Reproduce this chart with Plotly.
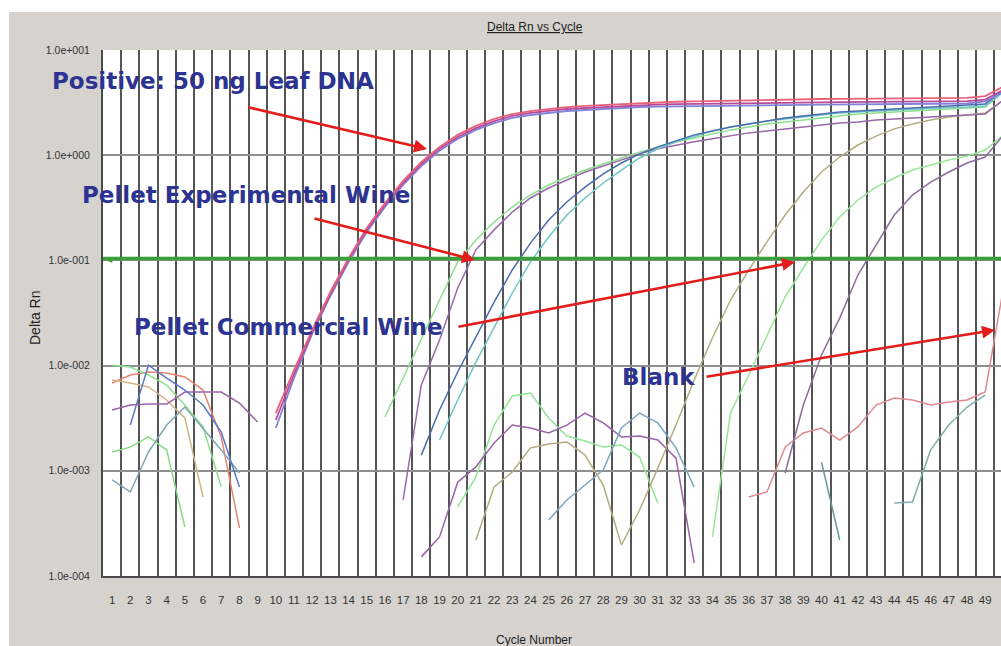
import math
import plotly.graph_objects as go

W, H = 1001, 646
ML, MR, MT, MB = 103, 0, 50, 70
PW, PH = W - ML - MR, H - MT - MB
CYCLE_PX = 18.19

cycles = list(range(1, 51))
x_ticktext = [str(c) for c in cycles]
y_tickvals = [1e-4, 1e-3, 1e-2, 1e-1, 1, 10]
y_ticktext = ["1.0e-004", "1.0e-003", "1.0e-002", "1.0e-001", "1.0e+000", "1.0e+001"]
threshold = 0.104

# Positive: 50 ng leaf DNA (first cycle 10)
pos_start = 10
pos_red = [0.00354, 0.00908, 0.0218, 0.0501, 0.105, 0.203, 0.351, 0.569, 0.862, 1.20,
           1.56, 1.90, 2.21, 2.46, 2.63, 2.75, 2.87, 2.94, 3.00, 3.07,
           3.14, 3.20, 3.22, 3.25, 3.28, 3.32, 3.35, 3.37, 3.39, 3.40,
           3.42, 3.43, 3.44, 3.45, 3.46, 3.47, 3.48, 3.49, 3.50, 3.65, 4.5]
pos_magenta = [0.00304, 0.00832, 0.0209, 0.0479, 0.101, 0.195, 0.336, 0.544, 0.825, 1.15,
               1.49, 1.81, 2.11, 2.36, 2.52, 2.63, 2.75, 2.81, 2.87, 2.94,
               3.00, 3.03, 3.06, 3.08, 3.10, 3.12, 3.14, 3.15, 3.16, 3.17,
               3.18, 3.19, 3.20, 3.21, 3.22, 3.23, 3.24, 3.25, 3.26, 3.38, 4.2]
pos_violet = [0.00255, 0.00762, 0.0200, 0.0459, 0.0966, 0.186, 0.322, 0.521, 0.789, 1.10,
              1.43, 1.74, 2.02, 2.26, 2.41, 2.52, 2.63, 2.69, 2.75, 2.81,
              2.87, 2.89, 2.91, 2.93, 2.95, 2.97, 2.98, 2.99, 3.00, 3.01,
              3.02, 3.03, 3.04, 3.05, 3.06, 3.07, 3.08, 3.09, 3.10, 3.25, 4.0]

# Pellet experimental wine
exp_green_start = 16
exp_green = [0.00325, 0.00762, 0.0183, 0.0420,
             0.0966, 0.156, 0.232, 0.322, 0.418, 0.521, 0.621, 0.723, 0.825, 0.941,
             1.07, 1.20, 1.34, 1.46, 1.59, 1.74, 1.85, 1.98, 2.07, 2.16,
             2.26, 2.36, 2.46, 2.52, 2.57, 2.63, 2.69, 2.75, 2.81, 2.87, 4.0]
exp_purple_start = 17
exp_purple = [0.000528, 0.00654, 0.0175,
              0.0547, 0.126, 0.195, 0.288, 0.392, 0.488, 0.581, 0.692, 0.789, 0.900,
              1.03, 1.15, 1.25, 1.34, 1.43, 1.52, 1.63, 1.70, 1.78, 1.85,
              1.94, 2.02, 2.07, 2.16, 2.21, 2.26, 2.31, 2.36, 2.41, 2.46, 3.35]
exp_teal_start = 19
exp_teal = [0.00196,
            0.00471, 0.0108, 0.0233, 0.0490, 0.0966, 0.167, 0.270, 0.392, 0.544, 0.723,
            0.941, 1.15, 1.34, 1.52, 1.70, 1.85, 1.98, 2.11, 2.21, 2.31,
            2.41, 2.52, 2.57, 2.63, 2.69, 2.75, 2.81, 2.84, 2.87, 2.94, 3.99]
exp_blue_start = 18
exp_blue = [0.00141, 0.00378,
            0.00869, 0.0187, 0.0402, 0.0811, 0.146, 0.242, 0.359, 0.498, 0.663, 0.843,
            1.03, 1.20, 1.36, 1.56, 1.70, 1.85, 1.98, 2.11, 2.26, 2.36,
            2.46, 2.57, 2.63, 2.69, 2.75, 2.81, 2.87, 2.94, 3.00, 3.07, 4.17]

# Pellet commercial wine
com_olive_start = 21
com_olive = [0.000220, 0.000701, 0.000974, 0.00165, 0.00180, 0.00188, 0.00141, 0.000733, 0.000197,
             0.000424, 0.00106, 0.00272, 0.00730, 0.0183, 0.0420, 0.0811, 0.150, 0.270, 0.447,
             0.692, 0.961, 1.25, 1.52, 1.78, 1.98, 2.16, 2.31, 2.41, 2.52, 3.35]
com_green_start = 34
com_green = [0.000235, 0.00354, 0.00814, 0.0195, 0.0449, 0.0847,
             0.156, 0.259, 0.375, 0.498, 0.607, 0.723, 0.807, 0.900, 0.980, 1.12, 1.56]
com_purple_start = 38
com_purple = [0.000953, 0.00422,
              0.0126, 0.0283, 0.0726, 0.140, 0.270, 0.418, 0.556, 0.692, 0.843, 0.961, 1.56]

# Blank
blank_start = 36
blank = [0.000564, 0.000629, 0.00168, 0.00229,
         0.00255, 0.00196, 0.00261, 0.00422, 0.00492, 0.00471, 0.00422, 0.00451, 0.00471, 0.00561,
         0.0547]

# baseline noise (positive part of the baseline-subtracted signal)
base_salmon = [0.00683, 0.00814, 0.00869, 0.00851, 0.00779, 0.00586, 0.00210, 0.000286]
base_green_a = [0.0101, 0.00970, 0.00814, 0.00654, 0.00422, 0.00261, 0.000701]
base_green_b = [0.00151, 0.00168, 0.00210, 0.00158, 0.000292]
base_tan = [0.00730, 0.00683, 0.00626, 0.00471, 0.00318, 0.000564]
base_purple = [0.00378, 0.00422, 0.00431, 0.00431, 0.00561, 0.00561, 0.00561, 0.00441, 0.00291]
base_teal = [0.000818, 0.000629, 0.00151, 0.00272, 0.00404, 0.00255, 0.00158, 0.000953]
base_blue_start = 2
base_blue = [0.00272, 0.0101, 0.00762, 0.00586, 0.00422, 0.00234, 0.000701]
mid_green_start = 20
mid_green = [0.000453, 0.000873, 0.00272, 0.00514, 0.00549, 0.00318, 0.00214, 0.00192,
             0.00168, 0.00176, 0.00135, 0.000494]
mid_purple_start = 18
mid_purple = [0.000152, 0.000235, 0.00078, 0.00109, 0.00184, 0.00272, 0.00255, 0.00229,
              0.00272, 0.00354, 0.00285, 0.00210, 0.00214, 0.00196, 0.00132, 0.000133]
mid_teal_start = 25
mid_teal = [0.000341, 0.000528, 0.000733, 0.00102, 0.00255, 0.00354, 0.00285, 0.00165, 0.000701]
late_teal_start = 44
late_teal = [0.000494, 0.000505, 0.00158, 0.00272, 0.00404, 0.00525]
short_teal_start = 40
short_teal = [0.00121, 0.000220]


def px(x):
    return (x - ML) / PW


def py(y):
    return (H - MB - y) / PH


fig = go.Figure()


def add_curve(start, values, color, width=1.5):
    xs = cycles[start - 1:start - 1 + len(values)]
    fig.add_trace(go.Scatter(x=xs, y=values, mode="lines",
                             line=dict(color=color, width=width),
                             hoverinfo="skip", showlegend=False))


# noise first, amplification curves on top
add_curve(1, base_salmon, "#e8846f")
add_curve(1, base_tan, "#d2b487")
add_curve(1, base_green_a, "#8fe08f")
add_curve(1, base_green_b, "#84dc84")
add_curve(1, base_purple, "#9a62a8")
add_curve(1, base_teal, "#7fa6b2")
add_curve(base_blue_start, base_blue, "#5a78c8")
add_curve(mid_green_start, mid_green, "#92e692")
add_curve(mid_purple_start, mid_purple, "#9a62a8")
add_curve(mid_teal_start, mid_teal, "#7aa8c0")
add_curve(late_teal_start, late_teal, "#7fb0a8")
add_curve(short_teal_start, short_teal, "#6a9898")

add_curve(blank_start, blank, "#e08890")
add_curve(com_olive_start, com_olive, "#b3ac80")
add_curve(com_green_start, com_green, "#96e896")
add_curve(com_purple_start, com_purple, "#8c6c9c")

add_curve(exp_green_start, exp_green, "#8ce08c")
add_curve(exp_purple_start, exp_purple, "#9868a8")
add_curve(exp_teal_start, exp_teal, "#6ec6c6")
add_curve(exp_blue_start, exp_blue, "#4c6cb0")

add_curve(pos_start, pos_violet, "#8282d8", 1.8)
add_curve(pos_start, pos_magenta, "#b84c9c", 1.8)
add_curve(pos_start, pos_red, "#e8607a", 1.8)

# threshold line
fig.add_shape(type="line", xref="paper", yref="y", x0=0, x1=1, y0=threshold, y1=threshold,
              line=dict(color="#38a038", width=3.5))

# white border of the scanned picture (top and left)
fig.add_shape(type="rect", xref="paper", yref="paper", x0=px(0), x1=px(W), y0=py(12), y1=py(0),
              fillcolor="white", line=dict(width=0), layer="above")
fig.add_shape(type="rect", xref="paper", yref="paper", x0=px(0), x1=px(9), y0=py(H), y1=py(0),
              fillcolor="white", line=dict(width=0), layer="above")

sans = "Liberation Sans, Arial, sans-serif"
navy = "#2d3391"
bold_font = dict(family="DejaVu Sans, Verdana, sans-serif", size=23, color=navy)

labels = [
    ("<b>Positive: 50 ng Leaf DNA</b>", 50, 81),
    ("<b>Pellet Experimental Wine</b>", 80, 195),
    ("<b>Pellet Commercial Wine</b>", 132, 327),
    ("<b>Blank</b>", 620, 377),
]
for text, lx, ly in labels:
    fig.add_annotation(text=text, xref="paper", yref="paper", x=px(lx), y=py(ly),
                       xanchor="left", yanchor="middle", showarrow=False, font=bold_font)

# red arrows: (tail x, tail y, head x, head y) in pixels
arrows = [(247, 107, 427, 149), (313, 218, 475, 260), (457, 327, 795, 262), (705, 377, 995, 330)]
for tx, ty, hx, hy in arrows:
    fig.add_annotation(text="", xref="paper", yref="paper", x=px(hx), y=py(hy),
                       ax=tx - hx, ay=ty - hy, showarrow=True, arrowhead=2, arrowsize=1,
                       arrowwidth=2.6, arrowcolor="#e41c1c", standoff=0)

# threshold marker at the left axis
thr_paper = (math.log10(threshold) + 4) / 5
fig.add_annotation(text="◀", xref="paper", yref="paper", x=px(104), y=thr_paper,
                   xanchor="left", yanchor="middle", showarrow=False,
                   font=dict(size=8, color="#38a038"))

# chart texts
fig.add_annotation(text="Delta Rn vs Cycle", xref="paper", yref="paper", x=px(535), y=py(27),
                   xanchor="center", yanchor="middle", showarrow=False,
                   font=dict(family=sans, size=12, color="#222222", lineposition="under"))
fig.add_annotation(text="Delta Rn", xref="paper", yref="paper", x=px(35), y=py(318),
                   xanchor="center", yanchor="middle", textangle=-90, showarrow=False,
                   font=dict(family=sans, size=14, color="#222222"))
fig.add_annotation(text="Cycle Number", xref="paper", yref="paper", x=px(534), y=py(631),
                   xanchor="center", yanchor="top", showarrow=False,
                   font=dict(family=sans, size=12, color="#222222"))

fig.update_layout(
    width=W, height=H,
    margin=dict(l=ML, r=MR, t=MT, b=MB, pad=0),
    paper_bgcolor="#d6d3ce", plot_bgcolor="white",
    showlegend=False, hovermode=False,
    xaxis=dict(range=[0.5, 0.5 + PW / CYCLE_PX], tickmode="array", tickvals=cycles,
               ticktext=x_ticktext, showgrid=False, zeroline=False, showline=True,
               linecolor="#4a4a4a", linewidth=2, ticks="", ticklabelstandoff=12,
               tickfont=dict(family=sans, size=11.5, color="#333333"),
               minor=dict(tickmode="array", tickvals=[c - 0.5 for c in cycles] + [50.5],
                          showgrid=True, gridcolor="#555555", gridwidth=1.7, ticks="")),
    yaxis=dict(type="log", range=[-4, 1], tickmode="array", tickvals=y_tickvals,
               ticktext=y_ticktext, showgrid=True, gridcolor="#8e8e8e", gridwidth=1.6,
               zeroline=False, showline=True, linecolor="#4a4a4a", linewidth=2,
               ticks="", ticklabelstandoff=9,
               tickfont=dict(family=sans, size=10.5, color="#333333")),
)

# the page's default body margin would shift the figure; remove it
fig.write_html("out.html", config={"displayModeBar": False},
               post_script="document.body.style.margin='0';document.body.style.overflow='hidden';")
